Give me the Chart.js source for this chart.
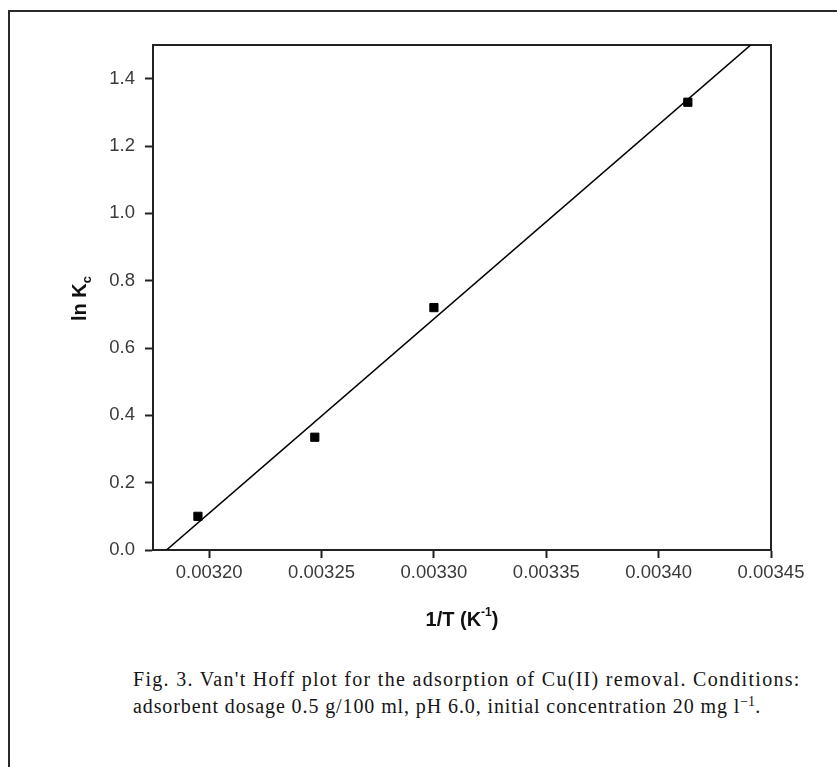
<!DOCTYPE html>
<html>
<head>
<meta charset="utf-8">
<script src="https://cdn.jsdelivr.net/npm/chart.js@4"></script>
<style>
  html, body { margin: 0; padding: 0; background: #fff; }
  body { width: 837px; height: 767px; position: relative; overflow: hidden; }
  #frame {
    position: absolute; left: 8px; top: 10px; width: 900px; height: 800px;
    border-left: 2px solid #2a2a2a; border-top: 2px solid #2a2a2a;
  }
  #chart { position: absolute; left: 0; top: 0; }
  #caption {
    position: absolute; left: 133px; top: 666px;
    font-family: 'Liberation Serif', 'Times New Roman', serif;
    font-size: 20px; line-height: 27px; color: #151515;
    letter-spacing: 1.3px; white-space: nowrap;
  }
  #caption .l2 { letter-spacing: 0.9px; }
  #caption sup { font-size: 14px; line-height: 0; vertical-align: 7px; letter-spacing: 0; }
</style>
</head>
<body>
<div id="frame"></div>
<canvas id="chart" width="837" height="640"></canvas>
<div id="caption">Fig. 3. Van't Hoff plot for the adsorption of Cu(II) removal. Conditions:<br><span class="l2">adsorbent dosage 0.5 g/100 ml, pH 6.0, initial concentration 20 mg l<sup>&minus;1</sup>.</span></div>
<script>
// measured points: 1/T (K^-1) vs ln Kc
const invT = [0.003195, 0.003247, 0.003300, 0.003413];
const lnKc = [0.10, 0.335, 0.72, 1.33];

// ends of the fitted line
const fitInvT = [0.003181, 0.003441];
const fitLnKc = [0.0, 1.5];

const xTicks = [0.00320, 0.00325, 0.00330, 0.00335, 0.00340, 0.00345];
const xTickLabels = ['0.00320', '0.00325', '0.00330', '0.00335', '0.00340', '0.00345'];
const yTicks = [0.0, 0.2, 0.4, 0.6, 0.8, 1.0, 1.2, 1.4];
const yTickLabels = ['0.0', '0.2', '0.4', '0.6', '0.8', '1.0', '1.2', '1.4'];

const tickFont = { family: "'Liberation Sans', Arial, sans-serif", size: 18.5 };
const axisColor = '#222';

// axis titles drawn by hand so the sub/superscripts sit right
const drawRuns = (ctx, runs, cx, baseline) => {
  let total = 0;
  runs.forEach(r => {
    ctx.font = 'bold ' + r.size + "px 'Liberation Sans', Arial, sans-serif";
    r.w = ctx.measureText(r.text).width;
    total += r.w;
  });
  let x = cx - total / 2;
  runs.forEach(r => {
    ctx.font = 'bold ' + r.size + "px 'Liberation Sans', Arial, sans-serif";
    ctx.fillText(r.text, x, baseline + r.dy);
    x += r.w;
  });
};

const axisTitles = {
  id: 'axisTitles',
  afterDraw(chart) {
    const { ctx, chartArea } = chart;
    ctx.save();
    ctx.fillStyle = '#111';
    ctx.textBaseline = 'alphabetic';
    ctx.textAlign = 'left';
    const midX = (chartArea.left + chartArea.right) / 2;
    drawRuns(ctx, [
      { text: '1/T (K', size: 20, dy: 0 },
      { text: '-1', size: 12, dy: -10 },
      { text: ')', size: 20, dy: 0 }
    ], midX, 626);

    const midY = (chartArea.top + chartArea.bottom) / 2;
    ctx.translate(79, midY + 1);
    ctx.rotate(-Math.PI / 2);
    drawRuns(ctx, [
      { text: 'ln K', size: 20, dy: 0 },
      { text: 'c', size: 13, dy: 5 }
    ], 0, 7);
    ctx.restore();
  }
};

new Chart(document.getElementById('chart'), {
  type: 'scatter',
  data: {
    datasets: [
      {
        label: 'ln Kc',
        data: invT.map((v, i) => ({ x: v, y: lnKc[i] })),
        backgroundColor: '#000',
        borderColor: '#000',
        pointStyle: 'rect',
        pointRadius: 5.8,
        pointHoverRadius: 5.8
      },
      {
        label: 'fit',
        type: 'line',
        data: fitInvT.map((v, i) => ({ x: v, y: fitLnKc[i] })),
        borderColor: '#000',
        borderWidth: 1.6,
        pointRadius: 0,
        showLine: true,
        fill: false
      }
    ]
  },
  options: {
    responsive: false,
    animation: false,
    devicePixelRatio: 1,
    layout: { padding: { left: 83, right: 66, top: 45, bottom: 30 } },
    plugins: {
      legend: { display: false },
      tooltip: { enabled: false }
    },
    scales: {
      x: {
        type: 'linear',
        position: 'bottom',
        min: 0.003175,
        max: 0.00345,
        afterBuildTicks: (scale) => { scale.ticks = xTicks.map(v => ({ value: v })); },
        afterFit: (scale) => { scale.height = 60; },
        ticks: {
          callback: (value, index) => xTickLabels[index],
          font: tickFont,
          color: '#3a3a3a',
          padding: 4,
          maxRotation: 0,
          autoSkip: false
        },
        grid: { display: true, drawOnChartArea: false, drawTicks: true, tickLength: 8, tickWidth: 2, color: axisColor },
        border: { display: true, color: axisColor, width: 2 }
      },
      y: {
        type: 'linear',
        position: 'left',
        min: 0,
        max: 1.5,
        afterBuildTicks: (scale) => { scale.ticks = yTicks.map(v => ({ value: v })); },
        afterFit: (scale) => { scale.width = 70; },
        ticks: {
          callback: (value, index) => yTickLabels[index],
          font: tickFont,
          color: '#3a3a3a',
          padding: 10,
          autoSkip: false
        },
        grid: { display: true, drawOnChartArea: false, drawTicks: true, tickLength: 8, tickWidth: 2, color: axisColor },
        border: { display: true, color: axisColor, width: 2 }
      },
      xTop: {
        type: 'linear',
        position: 'top',
        ticks: { display: false },
        grid: { display: false },
        border: { display: true, color: axisColor, width: 2 },
        afterFit: (scale) => { scale.height = 0; }
      },
      yRight: {
        type: 'linear',
        position: 'right',
        ticks: { display: false },
        grid: { display: false },
        border: { display: true, color: axisColor, width: 2 },
        afterFit: (scale) => { scale.width = 0; }
      }
    }
  },
  plugins: [axisTitles]
});
</script>
</body>
</html>
